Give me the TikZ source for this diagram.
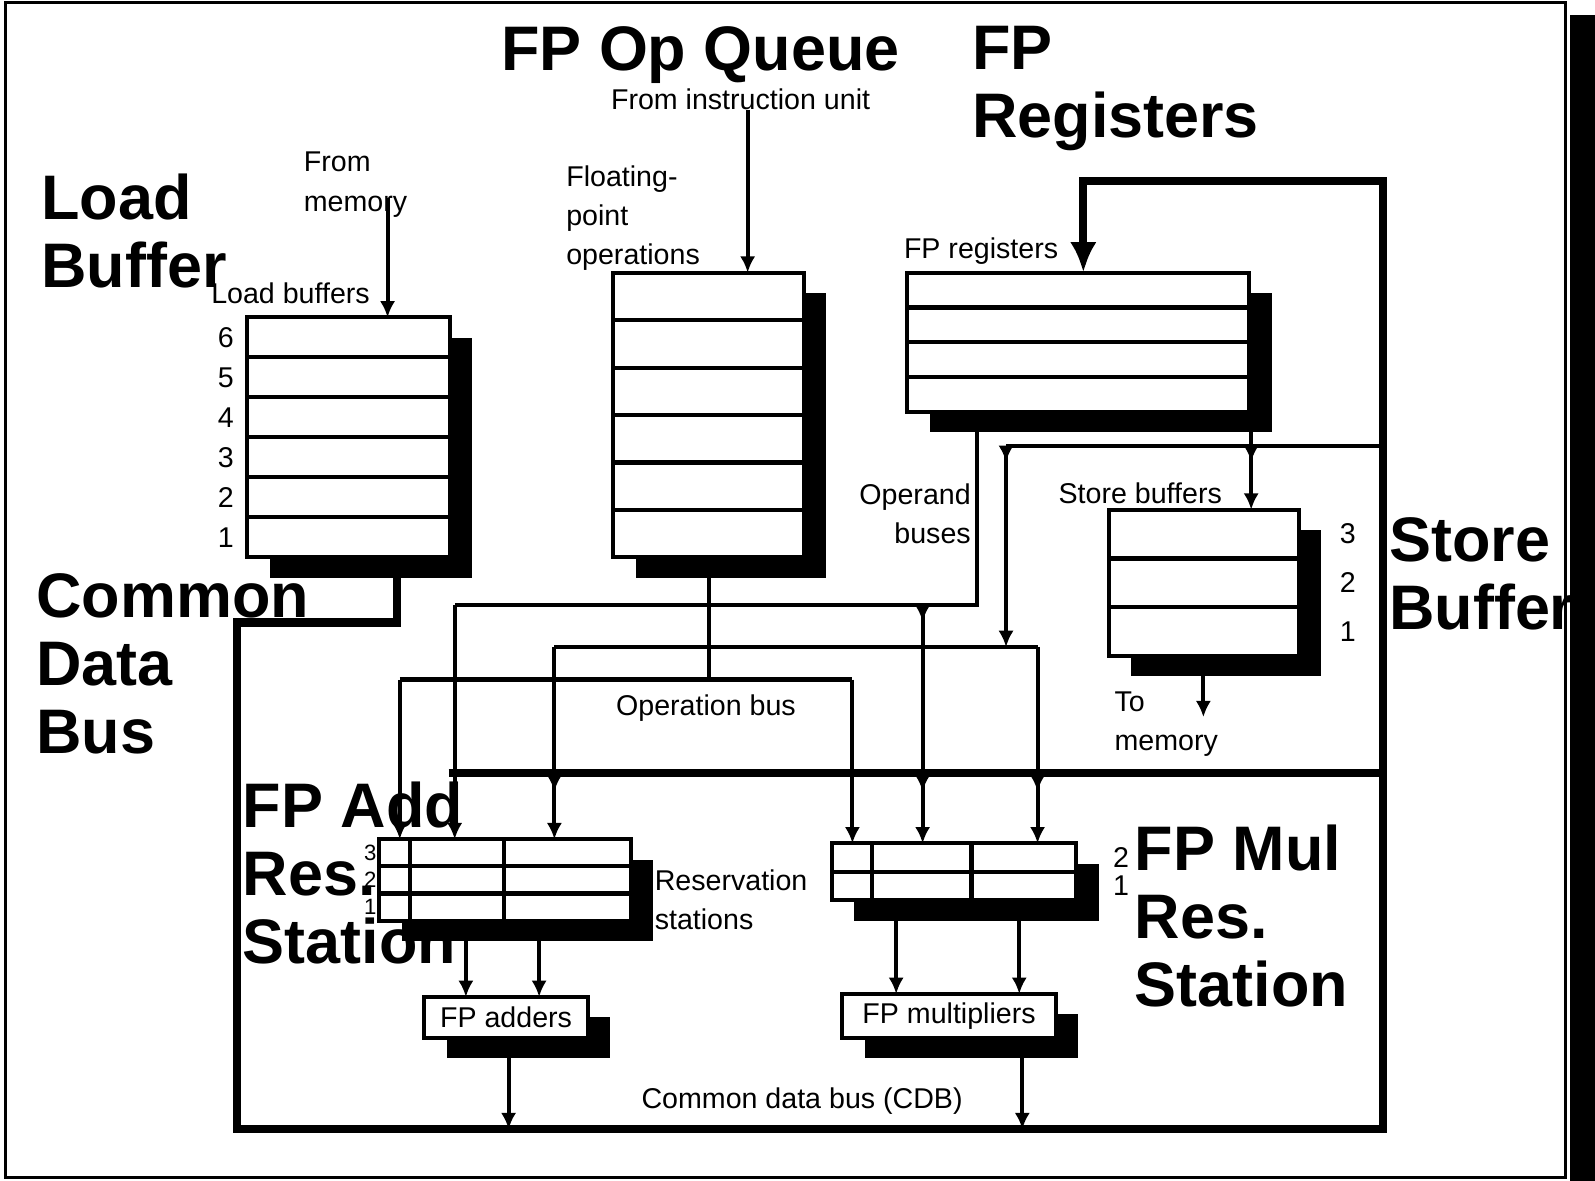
\documentclass[tikz,border=0pt]{standalone}
\usepackage{fontspec}
\setmainfont{Liberation Sans}
\usepackage{tikz}
\usetikzlibrary{positioning,arrows.meta,calc,shadows}

\begin{document}
\begin{tikzpicture}[
    x=0.1mm, y=-0.1mm,
    buf/.style={draw, line width=0.4mm, fill=white, inner sep=0pt, outer sep=0pt, anchor=north west,
        drop shadow={shadow xshift=2.2mm, shadow yshift=-2mm, fill=black, opacity=1}},
    rowline/.style={line width=0.4mm},
    bus/.style={line width=0.4mm},
    cdb/.style={line width=0.8mm},
    arrow/.style={-{Latex[length=1.6mm, width=1.5mm]}},
    bigarrow/.style={-{Latex[length=3mm, width=2.6mm]}},
    lbl/.style={font=\fontsize{8}{11}\selectfont, inner sep=0pt, align=left},
    tinylbl/.style={font=\fontsize{6.2}{7}\selectfont, inner sep=0pt},
    heading/.style={font=\fontsize{17.6}{19}\selectfont\bfseries, inner sep=0pt, align=left, anchor=north west}
]
\useasboundingbox (0,0) rectangle (1568,1161);
\draw[line width=0.3mm] (5,2) rectangle (1539,1158);

% buffers and units
\node[buf, minimum width=19.9mm, minimum height=23.6mm] (lb) at (243,312) {};
\node[buf, minimum width=18.7mm, minimum height=28mm] (oq) at (603,268) {};
\node[buf, minimum width=33.6mm, minimum height=13.7mm] (fr) at (892,268) {};
\node[buf, minimum width=18.7mm, minimum height=14.4mm] (sb) at (1090,501) {};
\node[buf, minimum width=24.7mm, minimum height=8mm] (ars) at (373,825) {};
\node[buf, minimum width=24mm, minimum height=5.6mm] (mrs) at (818,829) {};
\node[buf, lbl, minimum width=16.1mm, minimum height=4mm] (add) at (417,980) {FP adders};
\node[buf, lbl, minimum width=21mm, minimum height=4.3mm] (mul) at (828,977) {FP multipliers};

\foreach \k in {1,...,5} {
    \draw[rowline] ($(lb.north west)!\k/6!(lb.south west)$) -- ($(lb.north east)!\k/6!(lb.south east)$);
    \draw[rowline] ($(oq.north west)!\k/6!(oq.south west)$) -- ($(oq.north east)!\k/6!(oq.south east)$);
}
\foreach \k in {1,2,3}
    \draw[rowline] ($(fr.north west)!\k/4!(fr.south west)$) -- ($(fr.north east)!\k/4!(fr.south east)$);
\foreach \k in {1,2} {
    \draw[rowline] ($(sb.north west)!\k/3!(sb.south west)$) -- ($(sb.north east)!\k/3!(sb.south east)$);
    \draw[rowline] ($(ars.north west)!\k/3!(ars.south west)$) -- ($(ars.north east)!\k/3!(ars.south east)$);
}
\draw[rowline] (mrs.west) -- (mrs.east);
\foreach \f in {0.121,0.494}
    \draw[rowline] ($(ars.north west)!\f!(ars.north east)$) -- ($(ars.south west)!\f!(ars.south east)$);
\foreach \f in {0.1625,0.571}
    \draw[rowline] ($(mrs.north west)!\f!(mrs.north east)$) -- ($(mrs.south west)!\f!(mrs.south east)$);

% slot numbers
\foreach \n [count=\i, evaluate=\i as \f using (\i-0.5)/6] in {6,5,4,3,2,1}
    \node[lbl] (lbn\n) at ($(lb.north west)!\f!(lb.south west)+(-21,0)$) {\n};
\foreach \n [count=\i, evaluate=\i as \f using (\i-0.5)/3] in {3,2,1} {
    \node[lbl] (sbn\n) at ($(sb.north east)!\f!(sb.south east)+(48,0)$) {\n};
    \node[tinylbl] (arsn\n) at ($(ars.north west)!\f!(ars.south west)+(-9,0)$) {\n};
}
\foreach \n [count=\i, evaluate=\i as \f using (\i-0.5)/2] in {2,1}
    \node[lbl] (mrsn\n) at ($(mrs.north east)!\f!(mrs.south east)+(44,0)$) {\n};

% small labels
\node[lbl, anchor=north west] (frommem) at (298,149) {From\\memory};
\node[lbl, anchor=north west] (lbname) at (207,277) {Load buffers};
\node[lbl, anchor=north west] (fromiu) at (600,87) {From instruction unit};
\node[lbl, anchor=north west] (fpops) at (556,162) {Floating-\\point\\operations};
\node[lbl, anchor=north west] (frname) at (888,233) {FP registers};
\node[lbl, anchor=north east, align=right] (opbuses) at (955,475) {Operand\\buses};
\node[lbl, anchor=north west] (sbname) at (1040,474) {Store buffers};
\node[lbl, anchor=north west] (tomem) at (1095,679) {To\\memory};
\node[lbl, anchor=north west] (opbus) at (605,682) {Operation bus};
\node[lbl, anchor=north west] (rsname) at (643,854) {Reservation\\stations};
\node[lbl, anchor=north west] (cdbname) at (630,1069) {Common data bus (CDB)};

% junctions
\coordinate (memin) at (381,195);
\coordinate (iuin) at (735,108);
\coordinate (lbout) at (390,612);
\coordinate (cdbnw) at (233,612);
\coordinate (cdbsw) at (233,1110);
\coordinate (cdbse) at (1360,1110);
\coordinate (cdbne) at (1360,178);
\coordinate (frin) at (1065,178);
\coordinate (rsbus) at (441,760);
\coordinate (sbbus) at (989,438);
\coordinate (ob1r) at (960,595);
\coordinate (ob1a) at (447,595);
\coordinate (ob1m) at (907,595);
\coordinate (ob2a) at (545,636);
\coordinate (ob2m) at (1020,636);
\coordinate (ob2in) at (989,636);
\coordinate (oqout) at (697,668);
\coordinate (opa) at (393,668);
\coordinate (opm) at (838,668);
\coordinate (sbin) at (1230,438);
\coordinate (sbout) at (1183,705);
\coordinate (addin1) at (458,950);
\coordinate (addin2) at (530,950);
\coordinate (addout) at (500,1110);
\coordinate (mulin1) at (881,950);
\coordinate (mulin2) at (1002,950);
\coordinate (mulout) at (1005,1110);

% common data bus
\draw[cdb, bigarrow] (lbout |- lb.south) -- (lbout) -- (cdbnw) -- (cdbsw) -- (cdbse) -- (cdbne) -- (frin) -- (frin |- fr.north);
\draw[cdb] (rsbus) -- (rsbus -| cdbse);
\draw[bus] (sbbus) -- (sbbus -| cdbse);

% operand buses
\draw[bus] (ob1r |- fr.south) -- (ob1r) -- (ob1a);
\draw[bus, arrow] (ob1a) -- (ob1a |- ars.north);
\draw[bus, arrow] (ob1m) -- (ob1m |- mrs.north);
\draw[bus, arrow] (sbbus) -- (ob2in);
\draw[bus] (ob2a) -- (ob2m);
\draw[bus, arrow] (ob2a) -- (ob2a |- ars.north);
\draw[bus, arrow] (ob2m) -- (ob2m |- mrs.north);
\foreach \j in {sbbus, ob1m, sbin}
    \draw[bus, arrow] (\j) -- ++(0,16);
\foreach \j in {ob2a, ob1m, ob2m}
    \draw[bus, arrow] (\j |- rsbus) -- ++(0,18);

% operation bus
\draw[bus] (oqout |- oq.south) -- (oqout);
\draw[bus] (opa) -- (opm);
\draw[bus, arrow] (opa) -- (opa |- ars.north);
\draw[bus, arrow] (opm) -- (opm |- mrs.north);

% memory side
\draw[bus, arrow] (memin) -- (memin |- lb.north);
\draw[bus, arrow] (iuin) -- (iuin |- oq.north);
\draw[bus, arrow] (sbin |- fr.south) -- (sbin |- sb.north);
\draw[bus, arrow] (sbout |- sb.south) -- (sbout);

% functional units
\draw[bus, arrow] (addin1 |- ars.south) -- (addin1 |- add.north);
\draw[bus, arrow] (addin2 |- ars.south) -- (addin2 |- add.north);
\draw[bus, arrow] (mulin1 |- mrs.south) -- (mulin1 |- mul.north);
\draw[bus, arrow] (mulin2 |- mrs.south) -- (mulin2 |- mul.north);
\draw[bus, arrow] (addout |- add.south) -- (addout);
\draw[bus, arrow] (mulout |- mul.south) -- (mulout);

% headings
\node[heading] (hqueue) at (492,25) {FP Op Queue};
\node[heading] (hregs) at (955,25) {FP\\Registers};
\node[heading] (hload) at (40,170) {Load\\Buffer};
\node[heading] (hcdb) at (35,563) {Common\\Data\\Bus};
\node[heading] (hstore) at (1365,508) {Store\\Buffer};
\node[heading] (hadd) at (238,768) {FP Add\\Res.\\Station};
\node[heading] (hmul) at (1115,810) {FP Mul\\Res.\\Station};

\fill (1543,15) rectangle (1568,1161);
\end{tikzpicture}
\end{document}
